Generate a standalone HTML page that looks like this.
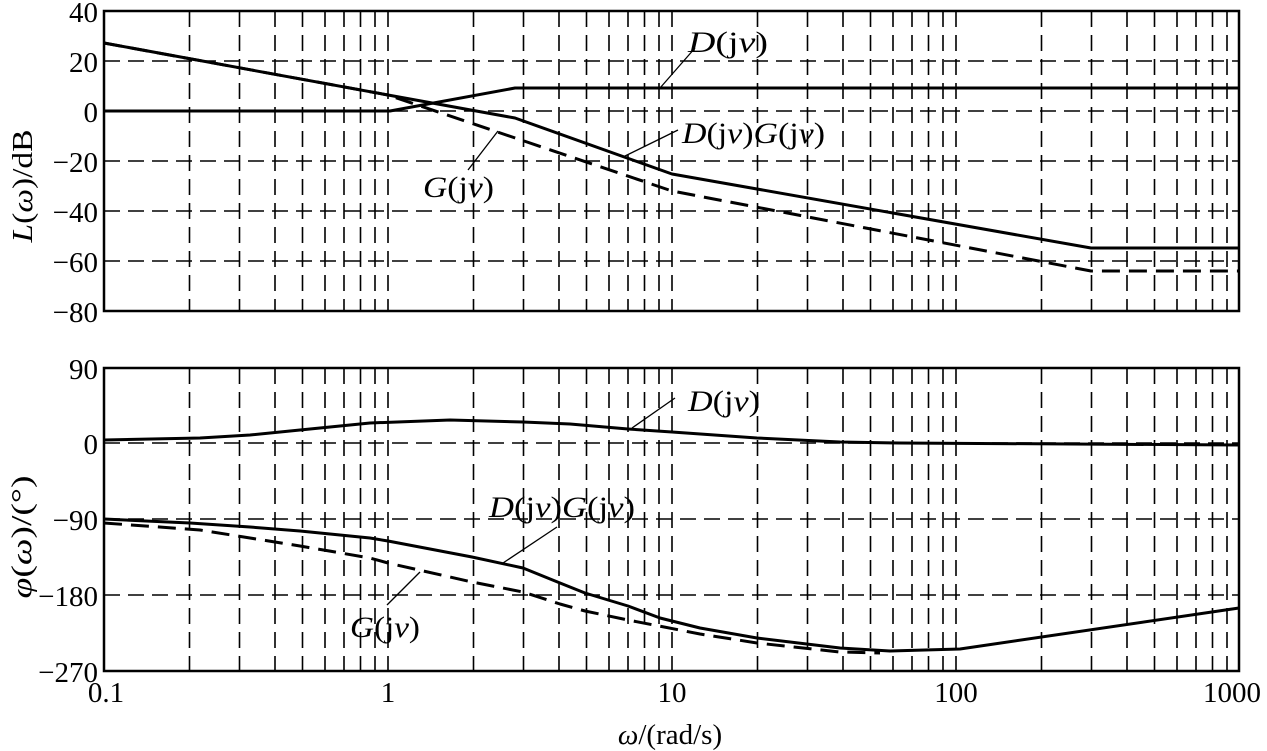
<!DOCTYPE html>
<html><head><meta charset="utf-8"><style>
html,body{margin:0;padding:0;background:#fff}
svg{display:block}
text{font-family:"Liberation Serif",serif;fill:#000}
</style></head><body>
<svg width="1267" height="751" viewBox="0 0 1267 751" xmlns="http://www.w3.org/2000/svg">
<g stroke="#000" stroke-width="1.6" fill="none" stroke-dasharray="16 8">
<path d="M189.5 11V311M239.5 11V311M275 11V311M302.5 11V311M325 11V311M344 11V311M360.5 11V311M375 11V311M388 11V311M473.5 11V311M523.5 11V311M559 11V311M586.5 11V311M609 11V311M628 11V311M644.5 11V311M659 11V311M672 11V311M757.5 11V311M807.5 11V311M843 11V311M870.5 11V311M893 11V311M912 11V311M928.5 11V311M943 11V311M956 11V311M1041.5 11V311M1091.5 11V311M1127 11V311M1154.5 11V311M1177 11V311M1196 11V311M1212.5 11V311M1227 11V311"/>
<path d="M189.5 368V671M239.5 368V671M275 368V671M302.5 368V671M325 368V671M344 368V671M360.5 368V671M375 368V671M388 368V671M473.5 368V671M523.5 368V671M559 368V671M586.5 368V671M609 368V671M628 368V671M644.5 368V671M659 368V671M672 368V671M757.5 368V671M807.5 368V671M843 368V671M870.5 368V671M893 368V671M912 368V671M928.5 368V671M943 368V671M956 368V671M1041.5 368V671M1091.5 368V671M1127 368V671M1154.5 368V671M1177 368V671M1196 368V671M1212.5 368V671M1227 368V671"/>
<path d="M104 61H1239M104 111H1239M104 161H1239M104 211H1239M104 261H1239"/>
<path d="M104 443H1239M104 519H1239M104 595H1239"/>
</g>
<g stroke="#000" stroke-width="2.5" fill="none">
<rect x="104" y="11" width="1135" height="300"/>
<rect x="104" y="368" width="1135" height="303"/>
</g>
<g stroke="#000" stroke-width="3" fill="none" stroke-linejoin="round">
<polyline points="104,43 388,95 515,118 672,174 1091,248 1239,248"/>
<polyline points="104,111 390,111 515,88 1239,88"/>
<polyline points="104,43 388,95 672,191 1091,271 1239,271" stroke-dasharray="18 9"/>
<polyline points="104,440 200,438 250,435 300,430 370,423 450,420 523,422 570,424 628,429 672,432 757,438 840,442 900,443 1239,445"/>
<polyline points="104,519 190,523 250,527 300,531 370,538 388,541 472,557 523,568 560,583 585,593 628,606 660,618 700,628 757,638 840,648 890,651 960,649 1239,608"/>
<polyline points="104,523 200,530 250,538 300,546 370,558 388,563 472,582 523,592 560,604 585,611 628,620 700,634 757,643 840,652 880,653" stroke-dasharray="18 9"/>
</g>
<g stroke="#000" stroke-width="1.3" fill="none">
<line x1="660" y1="88" x2="695" y2="48"/>
<line x1="623" y1="157" x2="678" y2="130"/>
<line x1="498" y1="131" x2="468" y2="170"/>
<line x1="632" y1="428" x2="675" y2="398"/>
<line x1="503" y1="563" x2="557" y2="527"/>
<line x1="387" y1="605" x2="420" y2="572"/>
</g>
<g font-size="30">
<text x="688" y="52" textLength="80" lengthAdjust="spacingAndGlyphs"><tspan font-style="italic">D</tspan>(j<tspan font-style="italic">ν</tspan>)</text>
<text x="682" y="143" textLength="143" lengthAdjust="spacingAndGlyphs"><tspan font-style="italic">D</tspan>(j<tspan font-style="italic">ν</tspan>)<tspan font-style="italic">G</tspan>(j<tspan font-style="italic">ν</tspan>)</text>
<text x="423" y="197" textLength="71" lengthAdjust="spacingAndGlyphs"><tspan font-style="italic">G</tspan>(j<tspan font-style="italic">ν</tspan>)</text>
<text x="688" y="411" textLength="72" lengthAdjust="spacingAndGlyphs"><tspan font-style="italic">D</tspan>(j<tspan font-style="italic">ν</tspan>)</text>
<text x="489" y="517" textLength="146" lengthAdjust="spacingAndGlyphs"><tspan font-style="italic">D</tspan>(j<tspan font-style="italic">ν</tspan>)<tspan font-style="italic">G</tspan>(j<tspan font-style="italic">ν</tspan>)</text>
<text x="350" y="637" textLength="70" lengthAdjust="spacingAndGlyphs"><tspan font-style="italic">G</tspan>(j<tspan font-style="italic">ν</tspan>)</text>
</g>
<g font-size="29" text-anchor="end">
<text x="98" y="22">40</text>
<text x="98" y="72">20</text>
<text x="98" y="122">0</text>
<text x="98" y="172">−20</text>
<text x="98" y="222">−40</text>
<text x="98" y="272">−60</text>
<text x="98" y="322">−80</text>
<text x="98" y="379">90</text>
<text x="98" y="454">0</text>
<text x="98" y="530">−90</text>
<text x="98" y="606">−180</text>
<text x="98" y="682">−270</text>
</g>
<g font-size="29" text-anchor="middle">
<text x="106" y="702">0.1</text>
<text x="388" y="702">1</text>
<text x="672" y="702">10</text>
<text x="956" y="702">100</text>
<text x="1232" y="702">1000</text>
<text x="670" y="744"><tspan font-style="italic">ω</tspan>/(rad/s)</text>
<text transform="translate(32,186) rotate(-90)" textLength="113" lengthAdjust="spacingAndGlyphs"><tspan font-style="italic">L</tspan>(<tspan font-style="italic">ω</tspan>)/dB</text>
<text transform="translate(31,537) rotate(-90)" textLength="123" lengthAdjust="spacingAndGlyphs"><tspan font-style="italic">φ</tspan>(<tspan font-style="italic">ω</tspan>)/(°)</text>
</g>
</svg>
</body></html>
